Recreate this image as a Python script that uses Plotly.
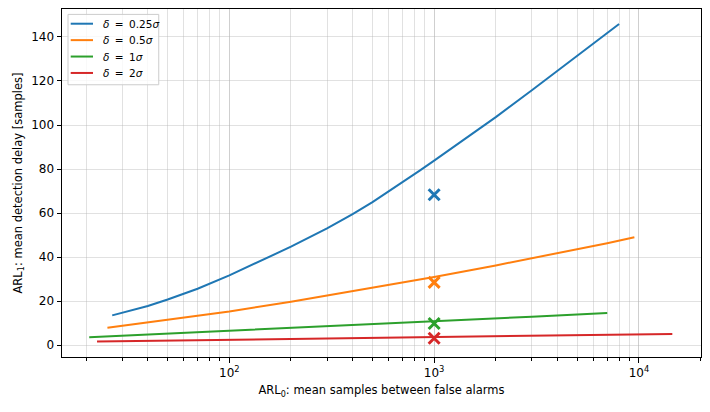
import plotly.graph_objects as go

# CUSUM trade-off curves
labels = ["<i>δ</i>\u2009 = \u20090.25<i>σ</i>", "<i>δ</i>\u2009 = \u20090.5<i>σ</i>",
          "<i>δ</i>\u2009 = \u20091<i>σ</i>", "<i>δ</i>\u2009 = \u20092<i>σ</i>"]
colors = ["#1f77b4", "#ff7f0e", "#2ca02c", "#d62728"]

arl0_025 = [26.8, 40, 50, 70, 100, 150, 200, 300, 400, 500, 700, 850, 1000, 1400, 2000, 3000, 4000, 5000, 6000, 8000]
arl1_025 = [13.5, 17.8, 20.7, 25.6, 31.7, 39.1, 44.7, 53.0, 59.5, 65.0, 73.9, 79.3, 83.8, 93.3, 103.6, 115.8, 124.6, 131.3, 136.9, 145.9]

arl0_05 = [25.4, 40, 100, 200, 500, 1000, 2000, 3000, 5000, 7000, 9500]
arl1_05 = [7.9, 10.4, 15.3, 19.7, 25.9, 30.9, 36.2, 39.4, 43.5, 46.3, 49.0]

arl0_1 = [20.7, 40, 100, 200, 1000, 3000, 7000]
arl1_1 = [3.6, 4.8, 6.5, 7.9, 10.7, 12.9, 14.6]

arl0_2 = [22.6, 100, 1000, 3000, 14550]
arl1_2 = [1.6, 2.4, 3.8, 4.3, 5.1]

# simulated operating point at ARL0 = 1000
marker_arl0 = [1000, 1000, 1000, 1000]
marker_arl1 = [68.3, 28.5, 9.8, 3.1]

curves = [(arl0_025, arl1_025), (arl0_05, arl1_05), (arl0_1, arl1_1), (arl0_2, arl1_2)]

# page body has an 8px margin, so the figure is drawn 8px in from the window corner
W, H = 702, 404
L, T, R, B = 54.3, 1.3, 9, 55


def px(x):
    # window pixel -> paper x
    return (x - 8 - L) / (W - L - R)


def py(y):
    # window pixel -> paper y
    return 1 - (y - 8 - T) / (H - T - B)


fig = go.Figure()
for (xs, ys), name, color in zip(curves, labels, colors):
    fig.add_trace(go.Scatter(
        x=xs, y=ys, mode="lines", name=name, showlegend=False,
        line=dict(color=color, width=2),
    ))

for x, y, color in zip(marker_arl0, marker_arl1, colors):
    fig.add_trace(go.Scatter(
        x=[x], y=[y], mode="markers", showlegend=False,
        marker=dict(symbol="x-thin", size=11, line=dict(color=color, width=3)),
    ))

# legend box drawn by hand so that the rows sit as tight as in the original
shapes = [dict(type="rect", xref="paper", yref="paper",
               x0=px(68.3), x1=px(159), y0=py(85), y1=py(14.7),
               line=dict(color="#cccccc", width=1), fillcolor="rgba(255,255,255,0.8)")]
annotations = []
for i, (name, color) in enumerate(zip(labels, colors)):
    row = 24 + 16.4 * i
    shapes.append(dict(type="line", xref="paper", yref="paper",
                       x0=px(71), x1=px(93.3), y0=py(row), y1=py(row),
                       line=dict(color=color, width=2)))
    annotations.append(dict(xref="paper", yref="paper", x=px(101.5), y=py(row),
                            xanchor="left", yanchor="middle", showarrow=False,
                            text=name, font=dict(size=10.5)))

grid = "rgba(180,180,180,0.4)"
fig.update_xaxes(
    type="log", range=[1.183, 4.303],
    tickvals=[100, 1000, 10000],
    ticktext=["10<sup>2</sup>", "10<sup>3</sup>", "10<sup>4</sup>"],
    ticks="outside", ticklen=4.5, tickcolor="black",
    showgrid=True, gridcolor=grid, gridwidth=1,
    minor=dict(dtick="D1", ticks="outside", ticklen=2.5, tickcolor="black",
               showgrid=True, gridcolor=grid, gridwidth=1),
    showline=True, linecolor="black", linewidth=1, mirror=True,
    zeroline=False, automargin=False,
    title=dict(text="ARL<sub>0</sub>: mean samples between false alarms",
               standoff=7, font=dict(size=11.5)),
)
fig.update_yaxes(
    range=[-5.4, 152.7],
    tickvals=[0, 20, 40, 60, 80, 100, 120, 140],
    ticks="outside", ticklen=4.5, tickcolor="black",
    showgrid=True, gridcolor=grid, gridwidth=1,
    showline=True, linecolor="black", linewidth=1, mirror=True,
    zeroline=False, automargin=False,
    title=dict(text="ARL<sub>1</sub>: mean detection delay [samples]",
               standoff=6, font=dict(size=11.5)),
)

fig.update_layout(
    width=W, height=H,
    margin=dict(l=L, r=R, t=T, b=B),
    plot_bgcolor="white", paper_bgcolor="white",
    font=dict(family="DejaVu Sans", size=12, color="black"),
    shapes=shapes, annotations=annotations,
    showlegend=False,
)

fig.write_html("out.html")
